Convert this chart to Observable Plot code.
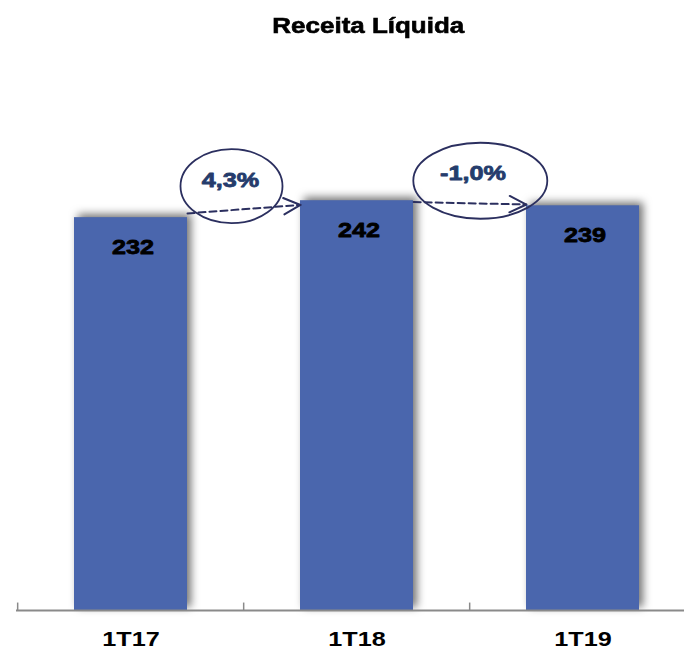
<!DOCTYPE html>
<html><head><meta charset="utf-8">
<script src="https://cdn.jsdelivr.net/npm/d3@7"></script>
<script src="https://cdn.jsdelivr.net/npm/@observablehq/plot@0.6"></script>
<style>
body{margin:0;background:#fff;}
#chart{width:684px;height:651px;position:relative;overflow:hidden;}
#title{height:50px;box-sizing:border-box;padding-top:15px;padding-left:52px;text-align:center;font:bold 22px "Liberation Sans",Arial,sans-serif;line-height:22px;color:#000;-webkit-text-stroke:0.6px #000;}
#title span{display:inline-block;transform:scaleX(1.18);}
svg{display:block}
</style></head><body>
<div id="chart"><div id="title"><span>Receita Líquida</span></div></div>
<script>
// ---- data ----
const categories = ["1T17", "1T18", "1T19"];
const values = [232, 242, 239];
const valueLabels = ["232", "242", "239"];
const changes = ["4,3%", "-1,0%"];

// ---- tables built from the data ----
const bars = categories.map((c, i) => ({cat: c, value: values[i], label: valueLabels[i]}));
const pairs = changes.map((label, i) => ({
  from: categories[i], to: categories[i + 1],
  v1: values[i], v2: values[i + 1],
  mid: (values[i] + values[i + 1]) / 2, label
}));

// ---- styles ----
const font = '"Liberation Sans", Arial, sans-serif';
const navy = "#2b2f5f";
const pctColor = "#253c6c";
const barColor = "#4a66ad";
const axisGray = "#8a8a8a";
const halfBand = 56.67;
const callouts = [
  {ex: -125.5, ey: -23, rx: 51, ry: 37, tx: -126.5, ty: -28.5},
  {ex: -102.7, ey: -22.5, rx: 67, ry: 38, tx: -110, ty: -30}
];
function ellipseSymbol(rx, ry) {
  const k = 0.5523;
  return {draw(ctx) {
    ctx.moveTo(rx, 0);
    ctx.bezierCurveTo(rx, ry * k, rx * k, ry, 0, ry);
    ctx.bezierCurveTo(-rx * k, ry, -rx, ry * k, -rx, 0);
    ctx.bezierCurveTo(-rx, -ry * k, -rx * k, -ry, 0, -ry);
    ctx.bezierCurveTo(rx * k, -ry, rx, -ry * k, rx, 0);
    ctx.closePath();
  }};
}
const boldText = {fontSize: 21, fontWeight: "bold", fontFamily: font, strokeWidth: 0.8, paintOrder: "stroke"};

const svg = Plot.plot({
  width: 684,
  height: 601,
  marginTop: 52,
  marginBottom: 41,
  marginLeft: 16,
  marginRight: 0,
  style: {background: "white", fontFamily: font, overflow: "visible"},
  x: {domain: categories, range: [16, 696], paddingInner: 0.5, paddingOuter: 0.25},
  y: {domain: [0, 300], axis: null},
  marks: [
    Plot.barY(bars, {x: "cat", y: "value", fill: barColor}),
    Plot.ruleY([0], {stroke: axisGray, strokeWidth: 2}),
    Plot.ruleX(categories, {x: d => d, y1: 0, y2: 4.4, dx: -113.33, stroke: axisGray, strokeWidth: 1.5}),
    Plot.text(bars, {x: "cat", y: "value", text: "label", dy: 29.5, dx: 2, fill: "#000", stroke: "#000", ...boldText}),
    Plot.arrow(pairs, {x1: "from", y1: "v1", x2: "to", y2: "v2", insetStart: halfBand, insetEnd: halfBand,
      headLength: 0, stroke: navy, strokeWidth: 2, strokeDasharray: "7,4"}),
    Plot.arrow(pairs, {x1: "from", y1: "v1", x2: "to", y2: "v2", insetStart: halfBand + 110, insetEnd: halfBand,
      headLength: 14, headAngle: 52, stroke: navy, strokeWidth: 2}),
    ...callouts.map((c, i) => Plot.dot([pairs[i]], {x: "to", y: "mid", dx: c.ex, dy: c.ey, r: 10,
      symbol: ellipseSymbol(c.rx, c.ry), stroke: navy, strokeWidth: 1.8, fill: "none"})),
    ...callouts.map((c, i) => Plot.text([pairs[i]], {x: "to", y: "mid", text: "label", dx: c.tx, dy: c.ty,
      fill: pctColor, stroke: pctColor, ...boldText})),
    Plot.axisX({tickSize: 0, tickPadding: 21, fill: "#000", stroke: "#000", label: null, ...boldText})
  ]
});
document.getElementById("chart").appendChild(svg);

// bar drop shadow
svg.querySelectorAll('g[aria-label="bar"]').forEach(g => g.style.filter = "drop-shadow(4px -3px 4px rgba(0,0,0,0.55))");
// widen text like the reference
svg.querySelectorAll("text").forEach(t => {
  const b = t.getBBox();
  const cx = b.x + b.width / 2;
  const tr = t.getAttribute("transform") || "";
  t.setAttribute("transform", `${tr} translate(${cx},0) scale(1.2,1) translate(${-cx},0)`);
});
</script>
</body></html>
